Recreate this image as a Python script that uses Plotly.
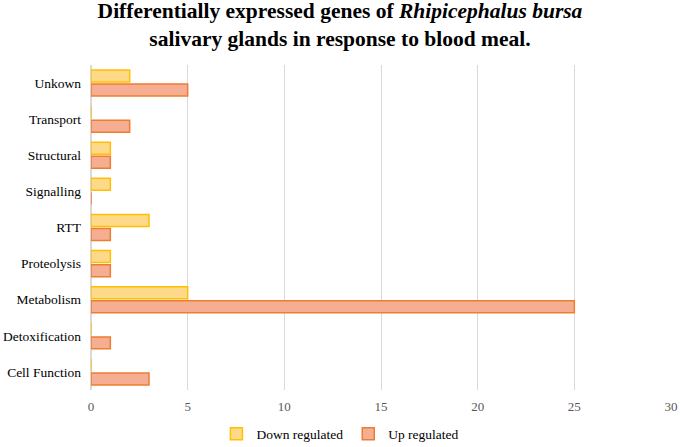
import plotly.graph_objects as go

# categories bottom -> top
categories = ["Cell Function", "Detoxification", "Metabolism", "Proteolysis",
              "RTT", "Signalling", "Structural", "Transport", "Unkown"]
down_regulated = [0, 0, 5, 1, 3, 1, 1, 0, 2]
up_regulated = [3, 1, 25, 1, 1, 0, 1, 2, 5]

x_ticks = [0, 5, 10, 15, 20, 25, 30]

SERIF = "Liberation Serif, Times New Roman, serif"

fig = go.Figure()

# Up first so it sits below Down inside each group
fig.add_trace(go.Bar(
    y=categories, x=up_regulated, orientation="h",
    name="Up regulated", legendrank=2,
    marker=dict(color="#F5AE92", line=dict(color="#ED7D31", width=1.5)),
))
fig.add_trace(go.Bar(
    y=categories, x=down_regulated, orientation="h",
    name="Down regulated", legendrank=1,
    marker=dict(color="#FFD98A", line=dict(color="#FFC000", width=1.5)),
))

fig.update_layout(
    width=680, height=447,
    margin=dict(l=91, r=9, t=65, b=57, autoexpand=False),
    paper_bgcolor="white", plot_bgcolor="white",
    barmode="group", bargap=0.22, bargroupgap=0.15,
    title=dict(
        text="Differentially expressed genes of <i>Rhipicephalus bursa</i><br>"
             "salivary glands in response to blood meal.",
        x=0.5, xanchor="center", y=0.959, yanchor="middle",
        font=dict(family=SERIF, size=21.5, color="black", weight="bold"),
    ),
    legend=dict(orientation="h", x=0.43, xanchor="center", y=-0.135,
                yanchor="middle", font=dict(family=SERIF, size=13.5, color="black"),
                itemwidth=30, tracegroupgap=0),
    font=dict(family=SERIF),
)
fig.update_xaxes(range=[0, 30], tickvals=x_ticks, showgrid=True,
                 gridcolor="#D9D9D9", gridwidth=1, zeroline=True,
                 zerolinecolor="#D9D9D9", showline=False, automargin=False,
                 ticklabelstandoff=7,
                 tickfont=dict(family=SERIF, size=13, color="#595959"))
fig.update_yaxes(showgrid=False, showline=False, ticks="", automargin=False,
                 ticklabelstandoff=9,
                 tickfont=dict(family=SERIF, size=13.5, color="black"))

# drop the default 8px body margin so the figure fills the window exactly
fig.write_html("out.html",
               config={"displayModeBar": False},
               post_script="document.body.style.margin='0';"
                           "document.body.style.overflow='hidden';")
